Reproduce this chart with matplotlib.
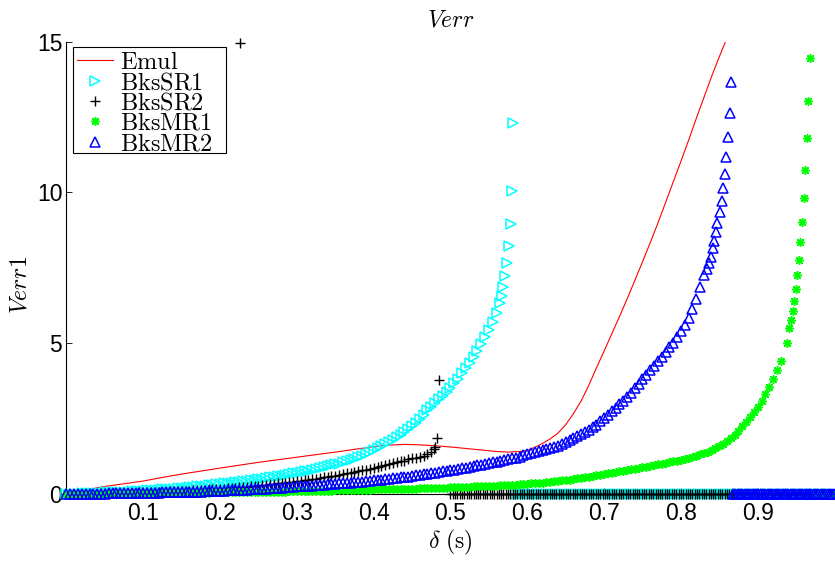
import numpy as np
import matplotlib
matplotlib.use("Agg")
import matplotlib.pyplot as plt
from matplotlib.patches import Rectangle

plt.rcParams['mathtext.fontset'] = 'cm'
plt.rcParams['font.family'] = ['Liberation Sans', 'DejaVu Sans']

# Emul (line)
emul_x = [0.0, 0.03, 0.05, 0.075, 0.1, 0.125, 0.15, 0.175, 0.2, 0.25, 0.3, 0.35,
          0.4, 0.42, 0.44, 0.46, 0.48, 0.5, 0.52, 0.54, 0.56, 0.575, 0.59,
          0.60, 0.61, 0.62, 0.63, 0.64, 0.65, 0.66, 0.67, 0.68, 0.69, 0.70,
          0.71, 0.72, 0.73, 0.74, 0.75, 0.76, 0.77, 0.78, 0.79, 0.80, 0.81,
          0.82, 0.83, 0.84, 0.85, 0.858]
emul_y = [0.04, 0.16, 0.25, 0.34, 0.43, 0.55, 0.66, 0.76, 0.86, 1.05, 1.22, 1.39,
          1.57, 1.62, 1.645, 1.63, 1.60, 1.56, 1.51, 1.46, 1.41, 1.39, 1.41,
          1.45, 1.55, 1.68, 1.83, 2.02, 2.30, 2.66, 3.08, 3.60, 4.18, 4.74,
          5.31, 5.88, 6.47, 7.08, 7.70, 8.33, 8.98, 9.66, 10.35, 11.03, 11.73,
          12.45, 13.15, 13.85, 14.50, 15.0]

# marker series: values at delta = 0, 0.005, 0.010, ...
grid_step = 0.005

# BksSR1 (0 .. 0.56)
sr1_y = [0.00, 0.00, 0.01, 0.01, 0.02, 0.02, 0.03, 0.03, 0.04, 0.04,
         0.05, 0.05, 0.06, 0.06, 0.07, 0.07, 0.08, 0.09, 0.10, 0.10,
         0.11, 0.12, 0.13, 0.13, 0.14, 0.15, 0.16, 0.17, 0.18, 0.19,
         0.20, 0.21, 0.22, 0.23, 0.25, 0.26, 0.28, 0.29, 0.31, 0.32,
         0.34, 0.35, 0.37, 0.38, 0.40, 0.41, 0.43, 0.44, 0.46, 0.48,
         0.50, 0.51, 0.53, 0.55, 0.57, 0.59, 0.61, 0.63, 0.66, 0.68,
         0.70, 0.72, 0.75, 0.77, 0.80, 0.83, 0.86, 0.89, 0.92, 0.95,
         0.98, 1.01, 1.05, 1.09, 1.13, 1.17, 1.22, 1.27, 1.33, 1.39,
         1.45, 1.51, 1.58, 1.65, 1.72, 1.80, 1.88, 1.96, 2.05, 2.15,
         2.25, 2.37, 2.50, 2.63, 2.77, 2.90, 3.02, 3.14, 3.26, 3.39,
         3.52, 3.67, 3.83, 4.00, 4.18, 4.36, 4.55, 4.75, 4.97, 5.20,
         5.45, 5.72, 6.00]
sr1_tail_x = [0.5645, 0.5667, 0.5687, 0.571, 0.5732, 0.5758, 0.5784, 0.5801, 0.5818]
sr1_tail_y = [6.32, 6.57, 6.88, 7.24, 7.67, 8.23, 8.96, 10.04, 12.3]
sr1_zero_from = 0.585

# BksSR2 (0 .. 0.47)
sr2_y = [0.00, 0.00, 0.00, 0.00, 0.01, 0.01, 0.01, 0.01, 0.01, 0.02,
         0.02, 0.02, 0.02, 0.03, 0.03, 0.03, 0.03, 0.04, 0.04, 0.05,
         0.05, 0.06, 0.06, 0.07, 0.07, 0.08, 0.08, 0.09, 0.09, 0.10,
         0.10, 0.11, 0.11, 0.12, 0.13, 0.14, 0.14, 0.15, 0.16, 0.17,
         0.17, 0.18, 0.19, 0.20, 0.21, 0.22, 0.23, 0.24, 0.25, 0.26,
         0.27, 0.29, 0.30, 0.32, 0.33, 0.35, 0.36, 0.38, 0.39, 0.41,
         0.42, 0.44, 0.45, 0.47, 0.49, 0.51, 0.53, 0.55, 0.57, 0.59,
         0.61, 0.63, 0.65, 0.68, 0.70, 0.73, 0.75, 0.78, 0.80, 0.83,
         0.86, 0.89, 0.92, 0.95, 0.99, 1.02, 1.05, 1.08, 1.11, 1.15,
         1.18, 1.21, 1.24, 1.27, 1.31]
sr2_tail_x = [0.475, 0.478, 0.480, 0.4828, 0.485, 0.2258]
sr2_tail_y = [1.40, 1.48, 1.57, 1.85, 3.78, 14.97]
sr2_zero_from = 0.50

# BksMR1 (0 .. 0.93)
mr1_y = [0.00, 0.00, 0.00, 0.00, 0.00, 0.01, 0.01, 0.01, 0.01, 0.01,
         0.01, 0.01, 0.01, 0.01, 0.01, 0.01, 0.02, 0.02, 0.02, 0.02,
         0.02, 0.02, 0.02, 0.02, 0.03, 0.03, 0.03, 0.03, 0.03, 0.03,
         0.03, 0.03, 0.04, 0.04, 0.04, 0.04, 0.04, 0.04, 0.05, 0.05,
         0.05, 0.05, 0.05, 0.05, 0.06, 0.06, 0.06, 0.06, 0.07, 0.07,
         0.07, 0.07, 0.07, 0.07, 0.08, 0.08, 0.08, 0.08, 0.09, 0.09,
         0.09, 0.09, 0.10, 0.10, 0.10, 0.10, 0.11, 0.11, 0.11, 0.11,
         0.12, 0.12, 0.12, 0.12, 0.13, 0.13, 0.13, 0.13, 0.14, 0.14,
         0.15, 0.15, 0.15, 0.15, 0.16, 0.16, 0.17, 0.17, 0.17, 0.17,
         0.18, 0.18, 0.19, 0.19, 0.20, 0.20, 0.20, 0.20, 0.21, 0.21,
         0.22, 0.22, 0.23, 0.23, 0.24, 0.24, 0.25, 0.25, 0.26, 0.26,
         0.27, 0.27, 0.28, 0.29, 0.30, 0.30, 0.31, 0.31, 0.32, 0.33,
         0.34, 0.35, 0.36, 0.37, 0.38, 0.39, 0.41, 0.42, 0.44, 0.45,
         0.47, 0.48, 0.50, 0.52, 0.54, 0.56, 0.58, 0.60, 0.62, 0.64,
         0.66, 0.68, 0.70, 0.72, 0.75, 0.77, 0.80, 0.82, 0.84, 0.86,
         0.88, 0.90, 0.93, 0.95, 0.98, 1.00, 1.03, 1.05, 1.08, 1.11,
         1.14, 1.17, 1.20, 1.23, 1.27, 1.31, 1.35, 1.40, 1.45, 1.51,
         1.58, 1.66, 1.76, 1.86, 1.97, 2.10, 2.25, 2.40, 2.57, 2.73,
         2.90, 3.10, 3.30, 3.55, 3.82, 4.10, 4.42]
mr1_tail_x = [0.9378, 0.9411, 0.9434, 0.9456, 0.9477, 0.9499, 0.9516, 0.9534,
              0.9555, 0.9577, 0.9599, 0.962, 0.9642, 0.9659, 0.9681]
mr1_tail_y = [5.0, 5.52, 5.77, 6.08, 6.41, 6.81, 7.25, 7.76,
              8.35, 9.02, 9.82, 10.74, 11.8, 13.02, 14.45]
mr1_zero_from = 0.975

# BksMR2 (0 .. 0.83)
mr2_y = [0.00, 0.00, 0.00, 0.00, 0.00, 0.01, 0.01, 0.01, 0.01, 0.01,
         0.01, 0.02, 0.02, 0.02, 0.02, 0.02, 0.02, 0.03, 0.03, 0.03,
         0.03, 0.03, 0.04, 0.04, 0.04, 0.05, 0.05, 0.05, 0.06, 0.06,
         0.06, 0.07, 0.07, 0.07, 0.08, 0.08, 0.09, 0.09, 0.10, 0.10,
         0.11, 0.11, 0.12, 0.12, 0.13, 0.13, 0.14, 0.14, 0.15, 0.16,
         0.17, 0.17, 0.18, 0.19, 0.20, 0.20, 0.21, 0.22, 0.23, 0.24,
         0.25, 0.26, 0.27, 0.27, 0.28, 0.29, 0.30, 0.31, 0.32, 0.33,
         0.34, 0.35, 0.36, 0.37, 0.38, 0.39, 0.40, 0.41, 0.42, 0.43,
         0.45, 0.46, 0.48, 0.49, 0.50, 0.52, 0.53, 0.55, 0.57, 0.58,
         0.60, 0.62, 0.63, 0.65, 0.67, 0.69, 0.71, 0.73, 0.75, 0.77,
         0.79, 0.81, 0.83, 0.85, 0.87, 0.90, 0.92, 0.95, 0.97, 1.00,
         1.02, 1.05, 1.07, 1.10, 1.12, 1.15, 1.18, 1.21, 1.24, 1.28,
         1.32, 1.35, 1.39, 1.42, 1.46, 1.49, 1.53, 1.56, 1.60, 1.66,
         1.72, 1.78, 1.85, 1.91, 1.98, 2.05, 2.12, 2.21, 2.30, 2.41,
         2.52, 2.63, 2.75, 2.86, 2.98, 3.10, 3.22, 3.36, 3.50, 3.65,
         3.80, 3.95, 4.10, 4.25, 4.40, 4.55, 4.70, 4.86, 5.02, 5.20,
         5.40, 5.62, 5.85, 6.15, 6.48, 6.85, 7.27]
mr2_tail_x = [0.8336, 0.8362, 0.8388, 0.8414, 0.8435, 0.8453, 0.8474, 0.8509,
              0.8531, 0.8552, 0.857, 0.8591, 0.8613, 0.8635, 0.8652]
mr2_tail_y = [7.45, 7.65, 7.87, 8.15, 8.4, 8.7, 9.0, 9.34,
              9.73, 10.14, 10.61, 11.17, 11.83, 12.63, 13.68]
mr2_zero_from = 0.868

zero_step = 0.003


def build(vals, tail_x, tail_y, zero_from):
    gx = np.arange(len(vals)) * grid_step
    zx = np.arange(zero_from, 1.0 + 1e-9, zero_step)
    x = np.concatenate([gx, tail_x, zx])
    y = np.concatenate([vals, tail_y, np.zeros(len(zx))])
    return x, y


fig = plt.figure(figsize=(8.35, 5.62), dpi=100)
ax = fig.add_axes([0.0796, 0.121, 0.9198, 0.8048])

ax.plot(emul_x, emul_y, color='red', lw=0.8, label=r'$\mathrm{Emul}$', zorder=3)

x, y = build(sr1_y, sr1_tail_x, sr1_tail_y, sr1_zero_from)
ax.plot(x, y, ls='none', marker='>', ms=6.8, mfc='none', mec=(0, 1, 1), mew=1.1,
        label=r'$\mathrm{BksSR1}$', clip_on=False, zorder=4)

x, y = build(sr2_y, sr2_tail_x, sr2_tail_y, sr2_zero_from)
ax.plot(x, y, ls='none', marker='+', ms=7, mec='black', mew=1.0,
        label=r'$\mathrm{BksSR2}$', clip_on=False, zorder=5)

x, y = build(mr1_y, mr1_tail_x, mr1_tail_y, mr1_zero_from)
ax.plot(x, y, ls='none', marker=(8, 2, 0), ms=6.2, mec=(0, 1, 0), mfc=(0, 1, 0), mew=1.1,
        label=r'$\mathrm{BksMR1}$', clip_on=False, zorder=6)

x, y = build(mr2_y, mr2_tail_x, mr2_tail_y, mr2_zero_from)
ax.plot(x, y, ls='none', marker='^', ms=6.8, mfc='none', mec=(0, 0, 1), mew=1.1,
        label=r'$\mathrm{BksMR2}$', clip_on=False, zorder=7)

ax.set_xlim(0, 1)
ax.set_ylim(0, 15)
ax.set_xticks([0.1, 0.2, 0.3, 0.4, 0.5, 0.6, 0.7, 0.8, 0.9])
ax.set_xticklabels(['0.1', '0.2', '0.3', '0.4', '0.5', '0.6', '0.7', '0.8', '0.9'])
ax.set_yticks([0, 5, 10, 15])
ax.tick_params(direction='in', length=4, width=0.6, labelsize=16.5)
ax.tick_params(axis='x', pad=6)
ax.tick_params(axis='y', pad=3)
ax.spines['top'].set_visible(False)
ax.spines['right'].set_visible(False)
for s in ['left', 'bottom']:
    ax.spines[s].set_linewidth(0.8)

ax.set_xlabel(r'$\delta\ \mathrm{(s)}$', fontsize=17)
ax.xaxis.set_label_coords(0.5, -0.075)
ax.set_ylabel(r'$Verr1$', fontsize=17)
ax.yaxis.set_label_coords(-0.045, 0.463)
ax.text(0.5, 1.033, r'$Verr$', transform=ax.transAxes, ha='center',
        va='baseline', fontsize=17)

# legend box drawn separately (MATLAB-style wide right margin)
box = Rectangle((0.0089, 0.7533), 0.1984, 0.2343, transform=ax.transAxes,
                facecolor='white', edgecolor='black', lw=0.8, zorder=9, clip_on=False)
ax.add_patch(box)
leg = ax.legend(loc='upper left', bbox_to_anchor=(0.0125, 0.980), borderaxespad=0,
                numpoints=1, fontsize=17.5, frameon=False,
                borderpad=0.05, labelspacing=-0.07,
                handlelength=1.45, handletextpad=0.3)
leg.set_zorder(10)

fig.savefig('out.png', dpi=100)
